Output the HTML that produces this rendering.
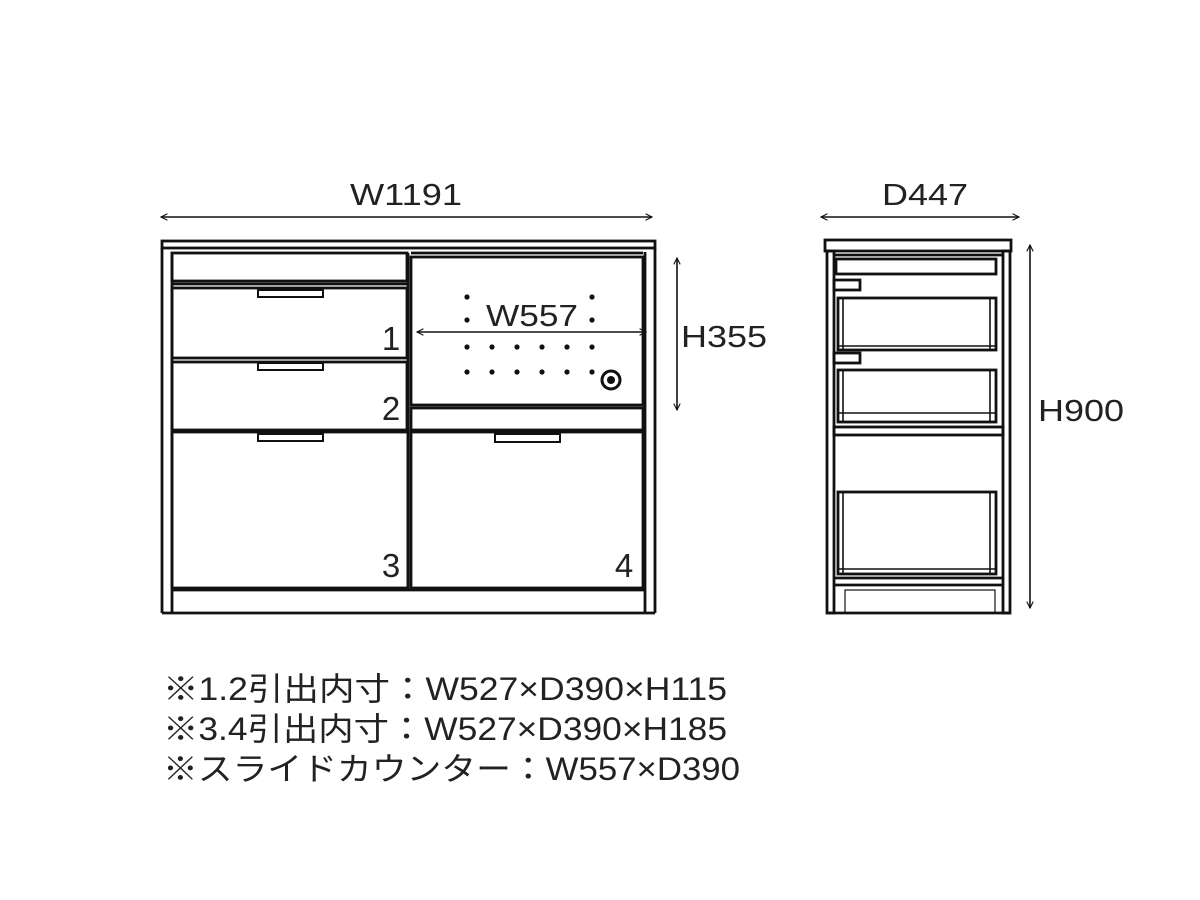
<!DOCTYPE html>
<html><head><meta charset="utf-8"><style>html,body{margin:0;padding:0;background:#fff}svg{display:block}</style></head>
<body>
<svg width="1200" height="900" viewBox="0 0 1200 900" xmlns="http://www.w3.org/2000/svg" font-family="'Liberation Sans','Noto Sans CJK JP',sans-serif" fill="none" stroke="#111" stroke-width="2.8">
<defs>
<marker id="a" viewBox="0 0 10 10" refX="9" refY="5" markerWidth="8" markerHeight="8" orient="auto-start-reverse" markerUnits="userSpaceOnUse"><path d="M1,1 L9,5 L1,9" stroke="#111" stroke-width="1.4" fill="none"/></marker>
</defs>
<line x1="161" y1="217" x2="652" y2="217" stroke-width="1.6" marker-start="url(#a)" marker-end="url(#a)"/>
<line x1="821" y1="217" x2="1019" y2="217" stroke-width="1.6" marker-start="url(#a)" marker-end="url(#a)"/>
<line x1="677" y1="258" x2="677" y2="410" stroke-width="1.6" marker-start="url(#a)" marker-end="url(#a)"/>
<line x1="1030" y1="245" x2="1030" y2="608" stroke-width="1.6" marker-start="url(#a)" marker-end="url(#a)"/>
<line x1="417" y1="332" x2="646" y2="332" stroke-width="1.6" marker-start="url(#a)" marker-end="url(#a)"/>
<g fill="#222" stroke="none" font-size="31">
<text x="406" y="205" text-anchor="middle" textLength="112" lengthAdjust="spacingAndGlyphs">W1191</text>
<text x="925" y="205" text-anchor="middle" textLength="86" lengthAdjust="spacingAndGlyphs">D447</text>
<text x="724" y="347" text-anchor="middle" textLength="86" lengthAdjust="spacingAndGlyphs">H355</text>
<text x="1081" y="421" text-anchor="middle" textLength="86" lengthAdjust="spacingAndGlyphs">H900</text>
<text x="532" y="326" text-anchor="middle" textLength="92" lengthAdjust="spacingAndGlyphs">W557</text>
<text x="391" y="350" text-anchor="middle" font-size="33">1</text>
<text x="391" y="420" text-anchor="middle" font-size="33">2</text>
<text x="391" y="577" text-anchor="middle" font-size="33">3</text>
<text x="624" y="577" text-anchor="middle" font-size="33">4</text>
<text x="163" y="700" font-size="32" textLength="564" lengthAdjust="spacingAndGlyphs">※1.2引出内寸：W527×D390×H115</text>
<text x="163" y="740" font-size="32" textLength="564" lengthAdjust="spacingAndGlyphs">※3.4引出内寸：W527×D390×H185</text>
<text x="163" y="780" font-size="32" textLength="577" lengthAdjust="spacingAndGlyphs">※スライドカウンター：W557×D390</text>
</g>
<rect x="162" y="241" width="493" height="7"/>
<line x1="162" y1="248" x2="162" y2="613"/>
<line x1="172" y1="252" x2="172" y2="613"/>
<line x1="655" y1="248" x2="655" y2="613"/>
<line x1="645" y1="252" x2="645" y2="613"/>
<line x1="162" y1="613" x2="655" y2="613"/>
<rect x="172" y="253" width="235" height="28"/>
<line x1="172" y1="284" x2="407" y2="284"/>
<rect x="172" y="288" width="235" height="70"/>
<rect x="172" y="362" width="235" height="68"/>
<rect x="172" y="432" width="236" height="156"/>
<line x1="408" y1="253" x2="408" y2="590"/>
<line x1="411" y1="253" x2="643" y2="253"/>
<rect x="411" y="257" width="232" height="148"/>
<rect x="411" y="408" width="232" height="22"/>
<rect x="411" y="432" width="232" height="156"/>
<line x1="172" y1="590" x2="645" y2="590"/>
<rect x="258" y="290" width="65" height="7" stroke-width="2"/>
<rect x="258" y="363" width="65" height="7" stroke-width="2"/>
<rect x="258" y="434" width="65" height="7" stroke-width="2"/>
<rect x="495" y="434" width="65" height="8" stroke-width="2"/>
<g fill="#111" stroke="none">
<circle cx="467" cy="297" r="2.6"/><circle cx="592" cy="297" r="2.6"/>
<circle cx="467" cy="320" r="2.6"/><circle cx="592" cy="320" r="2.6"/>
<circle cx="467" cy="347" r="2.6"/><circle cx="492" cy="347" r="2.6"/><circle cx="517" cy="347" r="2.6"/><circle cx="542" cy="347" r="2.6"/><circle cx="567" cy="347" r="2.6"/><circle cx="592" cy="347" r="2.6"/>
<circle cx="467" cy="372" r="2.6"/><circle cx="492" cy="372" r="2.6"/><circle cx="517" cy="372" r="2.6"/><circle cx="542" cy="372" r="2.6"/><circle cx="567" cy="372" r="2.6"/><circle cx="592" cy="372" r="2.6"/>
</g>
<circle cx="611" cy="380" r="9" stroke-width="3"/>
<circle cx="611" cy="380" r="4" fill="#111" stroke="none"/>
<rect x="825" y="240" width="186" height="11"/>
<rect x="827" y="251" width="7" height="362"/>
<rect x="1003" y="251" width="7" height="362"/>
<line x1="827" y1="613" x2="1010" y2="613"/>
<line x1="834" y1="255" x2="1003" y2="255"/>
<rect x="836" y="259" width="160" height="15"/>
<rect x="834" y="280" width="26" height="10"/>
<rect x="834" y="353" width="26" height="10"/>
<rect x="838" y="298" width="158" height="52"/>
<line x1="843" y1="298" x2="843" y2="350" stroke-width="1.6"/>
<line x1="990" y1="298" x2="990" y2="350" stroke-width="1.6"/>
<line x1="838" y1="346" x2="996" y2="346" stroke-width="1.6"/>
<rect x="838" y="370" width="158" height="52"/>
<line x1="843" y1="370" x2="843" y2="422" stroke-width="1.6"/>
<line x1="990" y1="370" x2="990" y2="422" stroke-width="1.6"/>
<line x1="838" y1="413" x2="996" y2="413" stroke-width="1.6"/>
<rect x="834" y="427" width="169" height="8"/>
<rect x="838" y="492" width="158" height="82"/>
<line x1="843" y1="492" x2="843" y2="574" stroke-width="1.6"/>
<line x1="990" y1="492" x2="990" y2="574" stroke-width="1.6"/>
<line x1="838" y1="569" x2="996" y2="569" stroke-width="1.6"/>
<line x1="834" y1="578" x2="1003" y2="578"/>
<line x1="834" y1="585" x2="1003" y2="585"/>
<rect x="845" y="590" width="150" height="23" stroke-width="1.2"/>
</svg>
</body></html>
